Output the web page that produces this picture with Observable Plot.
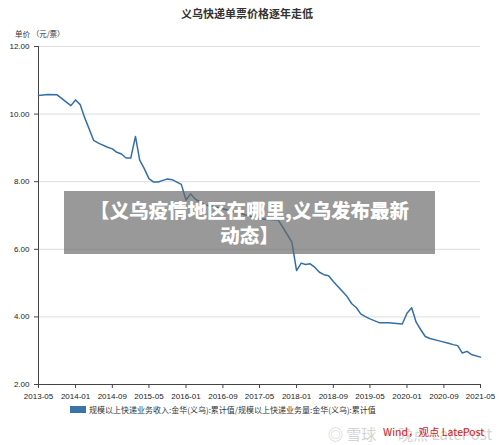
<!DOCTYPE html>
<html>
<head>
<meta charset="utf-8">
<script src="https://cdn.jsdelivr.net/npm/d3@7"></script>
<script src="https://cdn.jsdelivr.net/npm/@observablehq/plot@0.6"></script>
<style>
  html, body { margin: 0; padding: 0; background: #fff; }
  #wrap { position: relative; width: 500px; height: 445px; overflow: hidden;
          font-family: "Liberation Sans", "Noto Sans CJK SC", sans-serif; }
  #wrap svg { position: absolute; left: 0; top: 0; }
  .abs { position: absolute; white-space: nowrap; }
  #title { left: 0; width: 494px; top: 5px; text-align: center; font-size: 11px; font-weight: bold;
           color: #333; font-family: "Noto Sans CJK SC", sans-serif; }
  #ylab { left: 15px; top: 28px; font-size: 7.5px; color: #333; font-family: "Noto Sans CJK SC", sans-serif; }
  #legend { left: 70px; top: 404px; font-size: 8px; color: #333; font-family: "Noto Sans CJK SC", sans-serif; display: flex; align-items: center; }
  #legend .sw { display: inline-block; width: 16px; height: 7px; background: #3a74a8; margin-right: 3px; }
  #banner { left: 64px; top: 191px; width: 371px; height: 63px; background: rgba(105,105,105,0.68);
            color: #fff; font-weight: 900; font-size: 19.5px; line-height: 25px; text-align: center;
            font-family: "Noto Sans CJK SC", sans-serif; padding-top: 6px; box-sizing: border-box; }
  #banner div { height: 25px; }
  #wm1 { left: 328px; top: 423px; font-size: 15px; color: #d4d4d4; font-family: "Noto Sans CJK SC", sans-serif; }
  #wm2 { left: 383px; top: 424px; font-size: 10.5px; color: #d0201a; font-family: "Noto Sans CJK SC", sans-serif; }
</style>
</head>
<body>
<div id="wrap"></div>
<script>
const titleText = "义乌快递单票价格逐年走低";
const yLabel = "单价 （元/票）";
const seriesName = "规模以上快递业务收入:金华(义乌):累计值/规模以上快递业务量:金华(义乌):累计值";
const bannerLines = ["【义乌疫情地区在哪里,义乌发布最新", "动态】"];

const months = ["2013-05","2013-07","2013-09","2013-12","2014-01","2014-02","2014-03","2014-05","2014-06","2014-08",
  "2014-09","2014-10","2014-11","2014-12","2015-01","2015-02","2015-03","2015-04","2015-05","2015-06",
  "2015-07","2015-08","2015-09","2015-10","2015-12","2016-01","2016-02","2016-03","2016-05","2016-09",
  "2017-01","2017-05","2017-09","2017-10","2017-12","2018-01","2018-02","2018-03","2018-04","2018-05",
  "2018-06","2018-07","2018-08","2018-09","2018-10","2018-11","2018-12","2019-01","2019-02","2019-03",
  "2019-04","2019-05","2019-07","2019-09","2019-12","2020-01","2020-02","2020-03","2020-04","2020-05",
  "2020-06","2020-08","2020-10","2020-11","2020-12","2021-01","2021-02","2021-03","2021-05"];
const prices = [10.55,10.58,10.57,10.25,10.42,10.28,9.91,9.22,9.14,9.02,
  8.97,8.87,8.82,8.70,8.70,9.34,8.64,8.38,8.09,7.99,
  7.99,8.04,8.08,8.06,7.92,7.46,7.64,7.49,7.32,7.20,
  7.05,6.90,6.87,6.66,6.21,5.37,5.59,5.55,5.57,5.47,
  5.32,5.25,5.22,5.05,4.90,4.75,4.60,4.39,4.27,4.09,
  4.01,3.94,3.83,3.83,3.79,4.11,4.27,3.85,3.62,3.42,
  3.36,3.29,3.22,3.18,3.15,2.93,2.98,2.89,2.81];
const xTicks = ["2013-05","2014-01","2014-09","2015-05","2016-01","2016-09","2017-05","2018-01","2018-09","2019-05","2020-01","2020-09","2021-05"];
const yTicks = [2, 4, 6, 8, 10, 12];

const parse = d3.utcParse("%Y-%m");
const data = months.map((m, i) => ({date: parse(m), value: prices[i]}));
const tickDates = xTicks.map(parse);
const x0 = tickDates[0], x1 = tickDates[tickDates.length - 1];

const chart = Plot.plot({
  width: 500,
  height: 445,
  marginTop: 46,
  marginBottom: 61,
  marginLeft: 38,
  marginRight: 20,
  style: {fontFamily: "Liberation Sans, Arial, sans-serif", fontSize: "8px", color: "#222", background: "transparent"},
  x: {type: "utc", domain: [x0, x1], ticks: tickDates, tickFormat: d3.utcFormat("%Y-%m"), label: null, tickSize: 4, tickPadding: 2},
  y: {domain: [2, 12], ticks: yTicks, tickFormat: d3.format(".2f"), label: null, tickSize: 4, tickPadding: 2},
  marks: [
    Plot.gridY(yTicks.slice(1), {stroke: "#ddd", strokeOpacity: 1, strokeWidth: 1}),
    Plot.axisX({ticks: tickDates, tickFormat: d3.utcFormat("%Y-%m"), stroke: "#444", tickSize: 4, label: null}),
    Plot.axisY({ticks: yTicks, tickFormat: d3.format(".2f"), stroke: "#444", tickSize: 4, label: null}),
    Plot.ruleX([x0], {y1: 2, y2: 12, stroke: "#444", strokeWidth: 1}),
    Plot.ruleY([2], {stroke: "#444", strokeWidth: 1}),
    Plot.line(data, {x: "date", y: "value", stroke: "#336fa5", strokeWidth: 1.5})
  ]
});

const wrap = document.getElementById("wrap");
wrap.appendChild(chart);

function addDiv(id, html) {
  const d = document.createElement("div");
  d.id = id; d.className = "abs"; d.innerHTML = html;
  wrap.appendChild(d);
  return d;
}
addDiv("title", titleText);
addDiv("ylab", yLabel);
addDiv("legend", '<span class="sw"></span><span>' + seriesName + '</span>');
addDiv("banner", bannerLines.map(t => "<div>" + t + "</div>").join(""));
addDiv("wm1", "◎ 雪球 · 晚点 LatePost");
addDiv("wm2", "Wind，观点 LatePost");
</script>
</body>
</html>
